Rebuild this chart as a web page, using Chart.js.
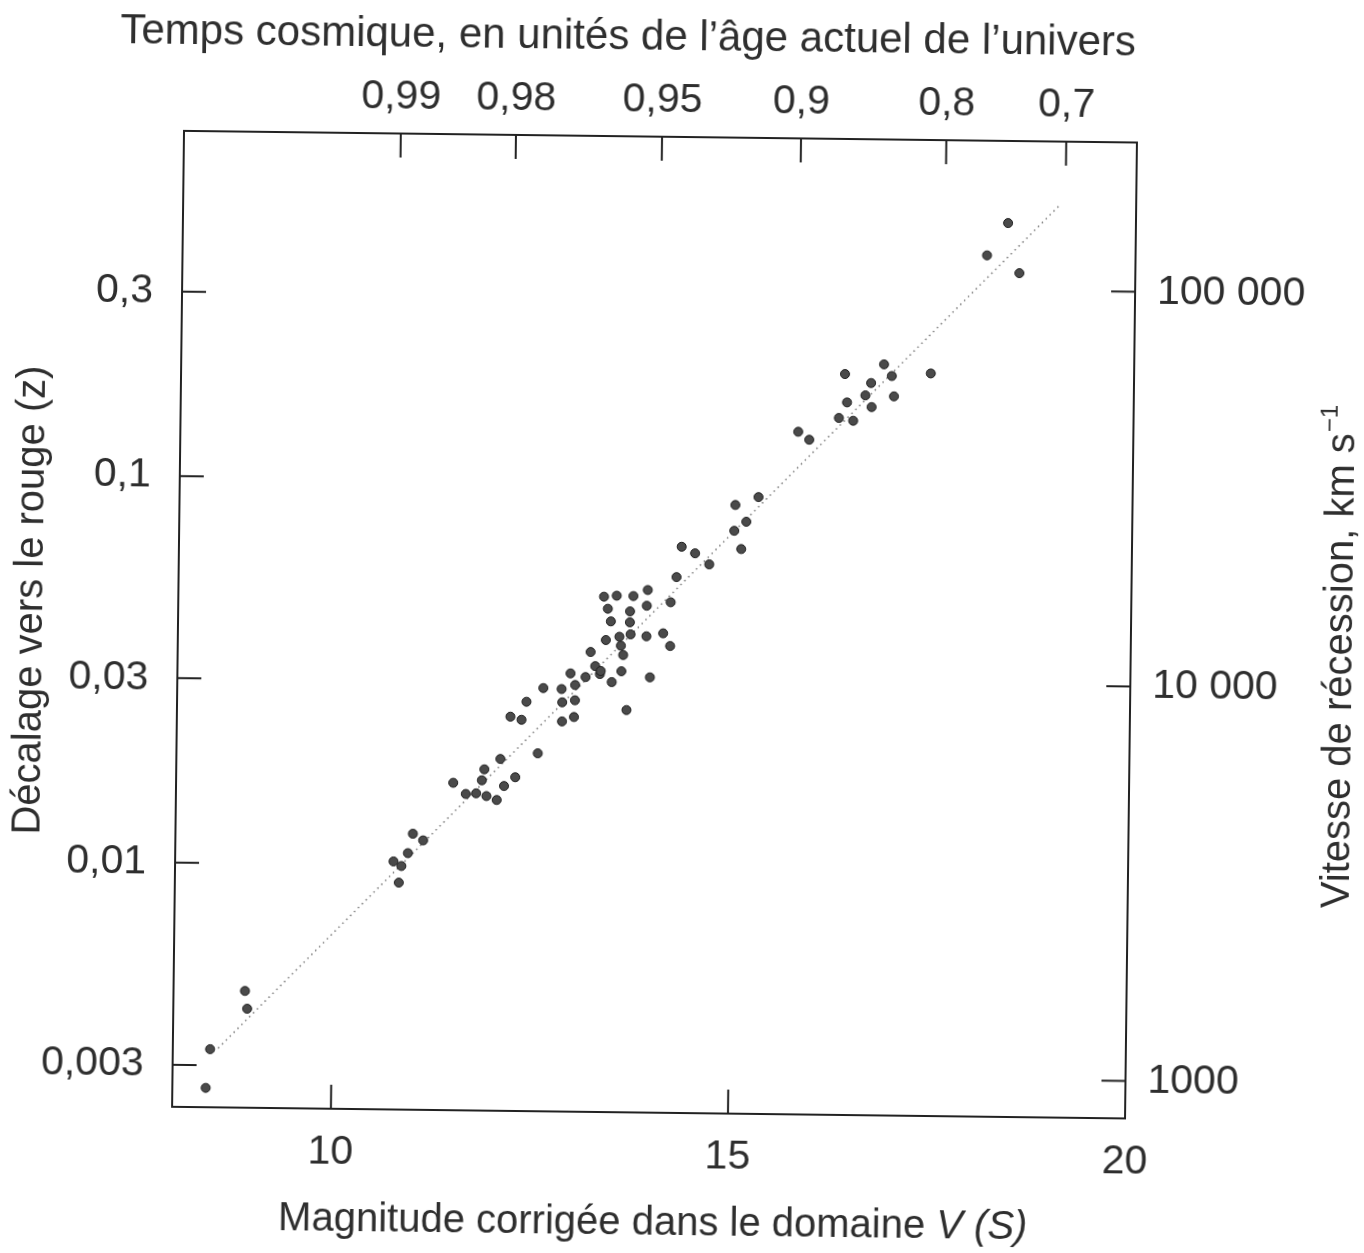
<!DOCTYPE html>
<html lang="fr">
<head>
<meta charset="UTF-8">
<title>Diagramme de Hubble</title>
<script src="https://cdn.jsdelivr.net/npm/chart.js@4"></script>
<style>
  html, body { margin: 0; padding: 0; background: #fff; overflow: hidden; }
  #hubble { display: block; transform: rotate(0.7deg); }
</style>
</head>
<body>
<canvas id="hubble" width="1364" height="1253"></canvas>
<script>
// magnitude corrigée V(S) et décalage z de chaque amas
const magnitude = [
  8.42, 8.47, 8.90, 8.93,
  10.75, 10.82, 10.85, 10.93, 10.99, 11.12,
  11.49, 11.65, 11.78, 11.85, 11.88, 11.91, 12.04, 12.08, 12.13, 12.20,
  12.27, 12.34, 12.40, 12.55, 12.61, 12.84, 12.85, 12.85, 12.95, 13.00,
  13.01, 13.01, 13.14, 13.20, 13.26, 13.32, 13.33, 13.36, 13.39, 13.41,
  13.45, 13.47, 13.52, 13.56, 13.58, 13.59, 13.61, 13.66, 13.69, 13.69,
  13.70, 13.73, 13.90, 13.90, 13.91, 13.95, 14.11, 14.20, 14.20, 14.27,
  14.33, 14.50, 14.68, 14.99, 15.00, 15.08, 15.14, 15.29,
  15.78, 15.92, 16.29, 16.36, 16.39, 16.47, 16.62, 16.69, 16.70, 16.85,
  16.95, 16.98, 17.44, 18.13, 18.39, 18.54
];
const redshift = [
  0.00262, 0.00330, 0.00468, 0.00421,
  0.01023, 0.00902, 0.00996, 0.01076, 0.01208, 0.01162,
  0.01641, 0.01537, 0.01544, 0.01669, 0.01782, 0.01520, 0.01486, 0.01898, 0.01616, 0.02443,
  0.01704, 0.02400, 0.02673, 0.01968, 0.02904, 0.02891, 0.02671, 0.02384, 0.03175, 0.02449,
  0.02706, 0.02964, 0.03110, 0.03612, 0.03322, 0.03170, 0.03228, 0.05026, 0.03883, 0.04679,
  0.04341, 0.03024, 0.05060, 0.03963, 0.03758, 0.03228, 0.03556, 0.02563, 0.04614, 0.04323,
  0.04024, 0.05056, 0.04777, 0.03982, 0.05246, 0.03119, 0.04058, 0.03765, 0.04885, 0.05678,
  0.06804, 0.06551, 0.06139, 0.07512, 0.08760, 0.06740, 0.07935, 0.09198,
  0.1361, 0.1299, 0.1482, 0.1926, 0.1627, 0.1459, 0.1699, 0.1829, 0.1585, 0.2046,
  0.1910, 0.1692, 0.1945, 0.3945, 0.4789, 0.3557
];

// droite de Hubble (pointillés)
const fitMag = [8.57, 19.05];
const fitZ = [0.00332, 0.538];

// graduations
const magTicks = [10, 15, 20];
const zTicks = [0.003, 0.01, 0.03, 0.1, 0.3];
const zLabels = ['0,003', '0,01', '0,03', '0,1', '0,3'];
const velTicks = [1000, 10000, 100000];
const velLabels = ['1000', '10 000', '100 000'];
// temps cosmique placé sur l'échelle des magnitudes
const ageTickMag = [10.73, 12.18, 14.02, 15.77, 17.60, 19.11];
const ageLabels = ['0,99', '0,98', '0,95', '0,9', '0,8', '0,7'];

const INK = '#2e2e2e';
const FONT = 'Liberation Sans, Arial, Helvetica, sans-serif';

const points = magnitude.map((m, i) => ({ x: m, y: redshift[i] }));
const fitLine = fitMag.map((m, i) => ({ x: m, y: fitZ[i] }));

// petites graduations tournées vers l'intérieur du cadre
const innerTicks = {
  id: 'innerTicks',
  afterDraw(chart) {
    const { ctx, chartArea: a, scales } = chart;
    const len = 24;
    ctx.save();
    ctx.strokeStyle = '#222';
    ctx.lineWidth = 2;
    ctx.beginPath();
    scales.x.ticks.forEach(t => {
      const p = scales.x.getPixelForValue(t.value);
      ctx.moveTo(p, a.bottom); ctx.lineTo(p, a.bottom - len);
    });
    scales.x2.ticks.forEach(t => {
      const p = scales.x2.getPixelForValue(t.value);
      ctx.moveTo(p, a.top); ctx.lineTo(p, a.top + len);
    });
    scales.y.ticks.forEach(t => {
      const p = scales.y.getPixelForValue(t.value);
      ctx.moveTo(a.left, p); ctx.lineTo(a.left + len, p);
    });
    scales.y2.ticks.forEach(t => {
      const p = scales.y2.getPixelForValue(t.value);
      ctx.moveTo(a.right, p); ctx.lineTo(a.right - len, p);
    });
    ctx.stroke();
    ctx.restore();
  }
};

// titres des quatre axes
const axisTitles = {
  id: 'axisTitles',
  afterDraw(chart) {
    const ctx = chart.ctx;
    ctx.save();
    ctx.fillStyle = INK;
    ctx.textBaseline = 'alphabetic';

    // haut
    ctx.font = '42px ' + FONT;
    ctx.textAlign = 'center';
    ctx.fillText('Temps cosmique, en unités de l\u2019âge actuel de l\u2019univers', 621, 50);

    // bas, avec V (S) en italique
    ctx.textAlign = 'left';
    const t1 = 'Magnitude corrigée dans le domaine ';
    const t2 = 'V (S)';
    ctx.font = '40px ' + FONT;
    const w1 = ctx.measureText(t1).width;
    ctx.font = 'italic 40px ' + FONT;
    const w2 = ctx.measureText(t2).width;
    const x0 = 660 - (w1 + w2) / 2;
    ctx.font = '40px ' + FONT;
    ctx.fillText(t1, x0, 1235);
    ctx.font = 'italic 40px ' + FONT;
    ctx.fillText(t2, x0 + w1, 1235);

    // gauche
    ctx.save();
    ctx.translate(42, 608);
    ctx.rotate(-Math.PI / 2);
    ctx.font = '40px ' + FONT;
    ctx.textAlign = 'center';
    ctx.fillText('Décalage vers le rouge (z)', 0, 0);
    ctx.restore();

    // droite, avec exposant
    ctx.save();
    ctx.translate(1352, 649);
    ctx.rotate(-Math.PI / 2);
    const r1 = 'Vitesse de récession, km s';
    const r2 = '\u22121';
    ctx.font = '40px ' + FONT;
    const rw1 = ctx.measureText(r1).width;
    ctx.font = '24px ' + FONT;
    const rw2 = ctx.measureText(r2).width;
    const rx = -(rw1 + rw2) / 2;
    ctx.textAlign = 'left';
    ctx.font = '40px ' + FONT;
    ctx.fillText(r1, rx, 0);
    ctx.font = '24px ' + FONT;
    ctx.fillText(r2, rx + rw1 + 1, -17);
    ctx.restore();

    ctx.restore();
  }
};

const tickFont = { family: FONT, size: 41 };
const frame = { display: true, color: '#222', width: 2 };

new Chart(document.getElementById('hubble'), {
  type: 'scatter',
  data: {
    datasets: [
      {
        data: points,
        order: 1,
        pointRadius: 4.5,
        pointBackgroundColor: '#4a4a4a',
        pointBorderColor: '#1e1e1e',
        pointBorderWidth: 1
      },
      {
        type: 'line',
        data: fitLine,
        order: 2,
        borderColor: '#7a7a7a',
        borderWidth: 1.5,
        borderDash: [1.5, 4],
        pointRadius: 0,
        fill: false
      }
    ]
  },
  options: {
    responsive: false,
    animation: false,
    events: [],
    layout: { padding: 0 },
    plugins: { legend: { display: false }, tooltip: { enabled: false } },
    scales: {
      x: {
        type: 'linear', position: 'bottom', min: 8, max: 20,
        grid: { display: false }, border: frame,
        afterBuildTicks: s => { s.ticks = magTicks.map(v => ({ value: v })); },
        afterFit: s => { s.height = 140; },
        ticks: { font: tickFont, color: INK, padding: 11, maxRotation: 0, autoSkip: false }
      },
      x2: {
        type: 'linear', position: 'top', min: 8, max: 20,
        grid: { display: false }, border: frame,
        afterBuildTicks: s => { s.ticks = ageTickMag.map(v => ({ value: v })); },
        afterFit: s => { s.height = 137; },
        ticks: {
          font: tickFont, color: INK, padding: 4, maxRotation: 0, autoSkip: false,
          callback: (v, i) => ageLabels[i]
        }
      },
      y: {
        type: 'logarithmic', position: 'left', min: 0.002335, max: 0.781,
        grid: { display: false }, border: frame,
        afterBuildTicks: s => { s.ticks = zTicks.map(v => ({ value: v })); },
        afterFit: s => { s.width = 178; },
        ticks: {
          font: tickFont, color: INK, padding: 21, autoSkip: false,
          callback: (v, i) => zLabels[i]
        }
      },
      y2: {
        type: 'logarithmic', position: 'right', min: 803, max: 239100,
        grid: { display: false }, border: frame,
        afterBuildTicks: s => { s.ticks = velTicks.map(v => ({ value: v })); },
        afterFit: s => { s.width = 233; },
        ticks: {
          font: tickFont, color: INK, padding: 14, autoSkip: false,
          callback: (v, i) => velLabels[i]
        }
      }
    }
  },
  plugins: [innerTicks, axisTitles]
});
</script>
</body>
</html>
